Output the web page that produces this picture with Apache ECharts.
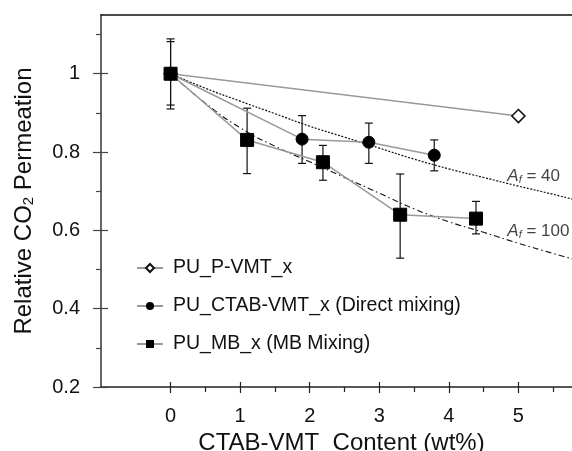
<!DOCTYPE html>
<html>
<head>
<meta charset="utf-8">
<script src="https://cdn.jsdelivr.net/npm/echarts@6/dist/echarts.min.js"></script>
<style>
html,body{margin:0;padding:0;background:#fff;}
#chart{width:572px;height:451px;}
</style>
</head>
<body>
<div id="chart"></div>
<script>
// ---- data ----
const xPVMT = [0, 5];
const yPVMT = [1, 0.892];

const xDirect = [0, 1.89, 2.85, 3.79];
const yDirect = [1, 0.833, 0.825, 0.792];
const hiDirect = [1.082, 0.893, 0.874, 0.831];
const loDirect = [0.920, 0.771, 0.771, 0.752];

const xMB = [0, 1.10, 2.19, 3.30, 4.39];
const yMB = [1, 0.831, 0.774, 0.640, 0.630];
const hiMB = [1.089, 0.912, 0.817, 0.744, 0.674];
const loMB = [0.910, 0.745, 0.728, 0.529, 0.591];

const xModel = [0, 0.5, 1, 1.5, 2, 2.5, 3, 3.5, 4, 4.5, 5, 5.5, 5.77];
const yAf40 = [1, 0.963, 0.930, 0.898, 0.866, 0.838, 0.810, 0.782, 0.757, 0.735, 0.713, 0.692, 0.680];
const yAf100 = [1, 0.925, 0.862, 0.815, 0.775, 0.735, 0.695, 0.655, 0.622, 0.595, 0.567, 0.541, 0.527];

const xTicks = [0, 1, 2, 3, 4, 5];
const xMinorTicks = [0.5, 1.5, 2.5, 3.5, 4.5, 5.5];
const yTicks = [0.2, 0.4, 0.6, 0.8, 1];
const yMinorTicks = [0.3, 0.5, 0.7, 0.9, 1.1];

const legendNames = ['PU_P-VMT_x', 'PU_CTAB-VMT_x (Direct mixing)', 'PU_MB_x (MB Mixing)'];
const afLabels = [{x: 4.84, y: 0.737, text: '40'}, {x: 4.84, y: 0.597, text: '100'}];

// ---- helpers ----
const zip = (xs, ys) => xs.map((x, i) => [x, ys[i]]);
const errData = (xs, lo, hi) => xs.map((x, i) => [x, lo[i], hi[i]]);

const FONT = 'Liberation Sans, Arial, sans-serif';
const X_MIN = -1, X_MAX = 5.77, Y_MIN = 0.2, Y_MAX = 1.15;

function errRender(params, api) {
  const x = api.value(0), lo = api.value(1), hi = api.value(2);
  const p1 = api.coord([x, hi]);
  const p2 = api.coord([x, lo]);
  const w = 4;
  const st = {stroke: '#111', lineWidth: 1.2};
  return {
    type: 'group',
    children: [
      {type: 'line', shape: {x1: p1[0], y1: p1[1], x2: p2[0], y2: p2[1]}, style: st},
      {type: 'line', shape: {x1: p1[0] - w, y1: p1[1], x2: p1[0] + w, y2: p1[1]}, style: st},
      {type: 'line', shape: {x1: p2[0] - w, y1: p2[1], x2: p2[0] + w, y2: p2[1]}, style: st}
    ]
  };
}

const chart = echarts.init(document.getElementById('chart'), null, {renderer: 'canvas'});

const baseX = {type: 'value', min: X_MIN, max: X_MAX, splitLine: {show: false}};
const baseY = {type: 'value', min: Y_MIN, max: Y_MAX, splitLine: {show: false}};

const option = {
  animation: false,
  backgroundColor: '#fff',
  textStyle: {fontFamily: FONT},
  grid: {left: 101, right: 0, top: 15, bottom: 64, containLabel: false, outerBoundsMode: 'none'},
  xAxis: [
    Object.assign({}, baseX, {
      position: 'bottom',
      axisLine: {show: true, onZero: false, lineStyle: {color: '#222', width: 1.5}},
      axisTick: {show: true, inside: false, length: 6, customValues: xTicks, lineStyle: {color: '#222', width: 1.2}},
      axisLabel: {show: true, customValues: xTicks, formatter: v => String(v), color: '#111', fontSize: 20, margin: 19, fontFamily: FONT},
      name: 'CTAB-VMT  Content (wt%)',
      nameLocation: 'middle',
      nameGap: 41,
      nameTextStyle: {fontSize: 24, color: '#111', fontFamily: FONT, padding: [0, 0, 0, 10]}
    }),
    Object.assign({}, baseX, {
      position: 'bottom',
      axisLine: {show: false, onZero: false},
      axisTick: {show: true, inside: true, length: 5, customValues: xTicks, lineStyle: {color: '#222', width: 1.2}},
      axisLabel: {show: false}
    }),
    Object.assign({}, baseX, {
      position: 'bottom',
      axisLine: {show: false, onZero: false},
      axisTick: {show: true, inside: false, length: 5, customValues: xMinorTicks, lineStyle: {color: '#222', width: 1.2}},
      axisLabel: {show: false}
    }),
    Object.assign({}, baseX, {
      position: 'top',
      axisLine: {show: true, onZero: false, lineStyle: {color: '#111', width: 1.5}},
      axisTick: {show: false},
      axisLabel: {show: false}
    })
  ],
  yAxis: [
    Object.assign({}, baseY, {
      position: 'left',
      axisLine: {show: true, onZero: false, lineStyle: {color: '#666', width: 2}},
      axisTick: {show: true, inside: false, length: 8, customValues: yTicks, lineStyle: {color: '#444', width: 1.2}},
      axisLabel: {show: true, customValues: yTicks, formatter: v => String(+v.toFixed(2)), color: '#111', fontSize: 20, margin: 21, fontFamily: FONT},
      name: '{n|Relative CO}{s|2}{n| Permeation}',
      nameLocation: 'middle',
      nameGap: 65,
      nameRotate: 90,
      nameTextStyle: {
        rich: {
          n: {fontSize: 24, color: '#111', fontFamily: FONT},
          s: {fontSize: 15, color: '#111', fontFamily: FONT, padding: [9, 0, 0, 0]}
        }
      }
    }),
    Object.assign({}, baseY, {
      position: 'left',
      axisLine: {show: false, onZero: false},
      axisTick: {show: true, inside: true, length: 7, customValues: yTicks, lineStyle: {color: '#444', width: 1.2}},
      axisLabel: {show: false}
    }),
    Object.assign({}, baseY, {
      position: 'left',
      axisLine: {show: false, onZero: false},
      axisTick: {show: true, inside: false, length: 5, customValues: yMinorTicks, lineStyle: {color: '#444', width: 1.2}},
      axisLabel: {show: false}
    })
  ],
  legend: {
    show: true,
    data: legendNames,
    orient: 'vertical',
    left: 131,
    top: 253,
    itemWidth: 26,
    itemHeight: 10,
    itemGap: 18,
    textStyle: {fontSize: 19.5, color: '#111', fontFamily: FONT, padding: [0, 0, 0, 5]}
  },
  series: [
    {
      name: 'Af40', type: 'line', data: zip(xModel, yAf40), symbol: 'none', smooth: true,
      lineStyle: {color: '#111', width: 1.2, type: [2, 1.5]}, z: 2, silent: true
    },
    {
      name: 'Af100', type: 'line', data: zip(xModel, yAf100), symbol: 'none', smooth: true,
      lineStyle: {color: '#111', width: 1.1, type: [6, 3, 1.5, 3]}, z: 2, silent: true
    },
    {
      name: legendNames[0], type: 'line', data: zip(xPVMT, yPVMT),
      symbol: 'diamond', symbolSize: 13,
      lineStyle: {color: '#999', width: 1.5},
      itemStyle: {color: '#fff', borderColor: '#111', borderWidth: 1.6}, z: 3
    },
    {
      name: 'errDirect', type: 'custom', renderItem: errRender,
      data: errData(xDirect, loDirect, hiDirect), encode: {x: 0, y: [1, 2]}, z: 2, silent: true
    },
    {
      name: legendNames[1], type: 'line', data: zip(xDirect, yDirect),
      symbol: 'circle', symbolSize: 12,
      lineStyle: {color: '#999', width: 1.5},
      itemStyle: {color: '#000', borderColor: '#000'}, z: 4
    },
    {
      name: 'errMB', type: 'custom', renderItem: errRender,
      data: errData(xMB, loMB, hiMB), encode: {x: 0, y: [1, 2]}, z: 2, silent: true
    },
    {
      name: legendNames[2], type: 'line', data: zip(xMB, yMB),
      symbol: 'rect', symbolSize: 13,
      lineStyle: {color: '#999', width: 1.5},
      itemStyle: {color: '#000', borderColor: '#000'}, z: 5
    },
    {
      name: 'afLabels', type: 'scatter', symbolSize: 0, silent: true, z: 6,
      data: afLabels.map(d => ({value: [d.x, d.y], text: d.text})),
      label: {
        show: true, position: 'right', distance: 0,
        formatter: p => '{a|A}{s|f}{t| = ' + p.data.text + '}',
        rich: {
          a: {fontSize: 17, fontStyle: 'italic', color: '#111', fontFamily: FONT},
          s: {fontSize: 11, fontStyle: 'italic', color: '#111', fontFamily: FONT, padding: [6, 0, 0, 0]},
          t: {fontSize: 17, color: '#111', fontFamily: FONT}
        }
      }
    }
  ]
};
chart.setOption(option);
</script>
</body>
</html>
